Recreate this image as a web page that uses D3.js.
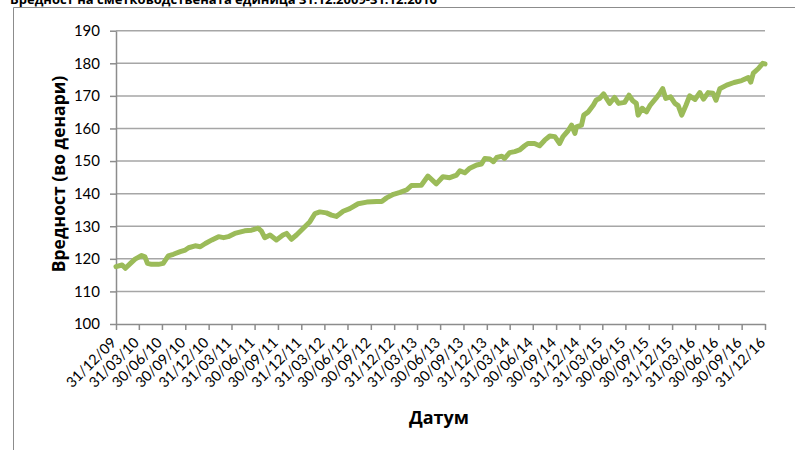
<!DOCTYPE html>
<html>
<head>
<meta charset="utf-8">
<script src="https://cdn.jsdelivr.net/npm/d3@7"></script>
<style>
  body { margin: 0; background: #fff; }
  svg { display: block; }
</style>
</head>
<body>
<div id="chart"></div>
<script>
// Вредност на сметководствената единица – line chart, 31.12.2009-31.12.2016
const chartTitle = "Вредност на сметководствената единица  31.12.2009-31.12.2016";
const yTitle = "Вредност (во денари)";
const xTitle = "Датум";

const dates = [
    "2009-12-31", "2010-01-24", "2010-02-06", "2010-02-26", "2010-03-16", "2010-04-11", "2010-04-24", "2010-05-04",
    "2010-05-20", "2010-06-16", "2010-07-05", "2010-07-25", "2010-08-14", "2010-09-10", "2010-09-30", "2010-10-13",
    "2010-11-08", "2010-11-28", "2010-12-18", "2011-01-13", "2011-02-08", "2011-02-28", "2011-03-18", "2011-04-13",
    "2011-05-22", "2011-06-18", "2011-07-14", "2011-07-27", "2011-08-09", "2011-08-30", "2011-09-24", "2011-10-20",
    "2011-11-03", "2011-11-22", "2011-12-12", "2012-01-08", "2012-02-03", "2012-02-23", "2012-03-13", "2012-04-08",
    "2012-04-28", "2012-05-17", "2012-06-13", "2012-07-09", "2012-08-11", "2012-09-14", "2012-10-23", "2012-11-12",
    "2012-12-01", "2012-12-28", "2013-01-23", "2013-02-19", "2013-03-09", "2013-04-17", "2013-05-13", "2013-06-15",
    "2013-07-11", "2013-08-07", "2013-09-03", "2013-09-16", "2013-10-05", "2013-10-25", "2013-11-21", "2013-12-10",
    "2013-12-23", "2014-01-12", "2014-01-26", "2014-02-08", "2014-02-28", "2014-03-11", "2014-03-31", "2014-04-20",
    "2014-05-09", "2014-05-29", "2014-06-11", "2014-07-07", "2014-07-27", "2014-08-16", "2014-09-05", "2014-09-25",
    "2014-10-14", "2014-10-27", "2014-11-16", "2014-11-30", "2014-12-13", "2014-12-19", "2015-01-08", "2015-01-17",
    "2015-02-04", "2015-02-24", "2015-03-07", "2015-03-20", "2015-04-05", "2015-04-29", "2015-05-18", "2015-06-03",
    "2015-06-27", "2015-07-14", "2015-07-29", "2015-08-12", "2015-08-19", "2015-09-04", "2015-09-21", "2015-10-06",
    "2015-10-28", "2015-11-14", "2015-11-24", "2015-12-06", "2015-12-25", "2016-01-11", "2016-01-24", "2016-02-07",
    "2016-02-24", "2016-03-09", "2016-03-30", "2016-04-18", "2016-05-03", "2016-05-21", "2016-06-09", "2016-06-21",
    "2016-07-06", "2016-08-02", "2016-08-31", "2016-09-30", "2016-10-26", "2016-11-05", "2016-11-15", "2016-12-05",
    "2016-12-22", "2016-12-31"
];

const values = [
    117.6, 118.1, 117.1, 118.6, 119.9, 121.0, 120.6, 118.6,
    118.3, 118.3, 118.6, 120.9, 121.4, 122.2, 122.7, 123.4,
    124.0, 123.7, 124.7, 125.8, 126.8, 126.5, 126.8, 127.8,
    128.6, 128.8, 129.4, 128.5, 126.5, 127.3, 125.8, 127.3,
    127.8, 126.0, 127.3, 129.4, 131.4, 133.9, 134.4, 134.1,
    133.4, 133.0, 134.6, 135.4, 136.9, 137.4, 137.6, 137.6,
    138.7, 139.8, 140.4, 141.2, 142.5, 142.6, 145.4, 143.0,
    145.2, 144.9, 145.7, 147.0, 146.4, 147.8, 148.8, 149.1,
    150.8, 150.6, 149.8, 151.1, 151.5, 150.8, 152.6, 152.9,
    153.4, 154.7, 155.4, 155.4, 154.7, 156.4, 157.7, 157.5,
    155.4, 157.5, 159.3, 161.0, 158.5, 160.5, 161.0, 164.1,
    165.1, 167.2, 168.7, 169.2, 170.6, 167.7, 169.5, 167.7,
    168.0, 170.2, 168.5, 167.7, 164.1, 166.2, 165.1, 167.2,
    169.2, 171.0, 172.2, 169.2, 169.7, 167.7, 167.0, 164.1,
    167.2, 170.0, 168.9, 171.0, 169.0, 171.0, 170.8, 168.7,
    172.2, 173.3, 174.1, 174.7, 175.6, 174.2, 177.0, 178.4,
    180.0, 179.8
];

const yTicks = [100, 110, 120, 130, 140, 150, 160, 170, 180, 190];

const xTickLabels = [
    "31/12/09", "31/03/10", "30/06/10", "30/09/10", "31/12/10", "31/03/11", "30/06/11", "30/09/11",
    "31/12/11", "31/03/12", "30/06/12", "30/09/12", "31/12/12", "31/03/13", "30/06/13", "30/09/13",
    "31/12/13", "31/03/14", "30/06/14", "30/09/14", "31/12/14", "31/03/15", "30/06/15", "30/09/15",
    "31/12/15", "31/03/16", "30/06/16", "30/09/16", "31/12/16"
];

const parseDate = d3.timeParse("%Y-%m-%d");
const parseTick = d3.timeParse("%d/%m/%y");
const data = dates.map((d, i) => ({ date: parseDate(d), value: values[i] }));
const tickDates = xTickLabels.map(parseTick);

const W = 795, H = 450;
const margin = { top: 30.7, right: 30, bottom: 126, left: 116 };
const width = W - margin.left - margin.right;
const height = H - margin.top - margin.bottom;

const svg = d3.select("#chart")
    .append("svg")
    .attr("width", W)
    .attr("height", H);

// outer frame (only top and left edge are visible)
svg.append("path")
    .attr("d", `M13.5,${H}V7.5H${W}`)
    .attr("fill", "none")
    .attr("stroke", "#8c8c8c")
    .attr("stroke-width", 1);

// title, cut off by the top of the picture as in the source
svg.append("text")
    .attr("x", 10)
    .attr("y", 4)
    .attr("font-family", "'Open Sans', sans-serif")
    .attr("font-weight", "bold")
    .attr("font-size", 13)
    .attr("fill", "#000")
    .text(chartTitle);

const x = d3.scaleTime()
    .domain(d3.extent(tickDates))
    .range([0, width]);

const y = d3.scaleLinear()
    .domain([100, 190])
    .range([height, 0]);

const g = svg.append("g")
    .attr("transform", `translate(${margin.left},${margin.top})`);

// horizontal gridlines
g.selectAll(".grid")
    .data(yTicks.filter(t => t > 100))
    .enter()
    .append("line")
    .attr("class", "grid")
    .attr("x1", 0)
    .attr("x2", width)
    .attr("y1", d => y(d))
    .attr("y2", d => y(d))
    .attr("stroke", "#a6a6a6")
    .attr("stroke-width", 1.5);

// y axis
const yAxis = g.append("g")
    .call(d3.axisLeft(y).tickValues(yTicks).tickSize(6).tickSizeOuter(0).tickPadding(10));
yAxis.select(".domain").attr("stroke", "#8c8c8c").attr("stroke-width", 1.5);
yAxis.selectAll("line").attr("stroke", "#8c8c8c").attr("stroke-width", 1.5);
yAxis.selectAll("text")
    .attr("font-family", "Lato, 'Open Sans', sans-serif")
    .attr("font-size", 15)
    .attr("fill", "#000");

// x axis
const xAxis = g.append("g")
    .attr("transform", `translate(0,${height})`)
    .call(d3.axisBottom(x).tickValues(tickDates).tickSize(6).tickSizeOuter(0)
        .tickFormat((d, i) => xTickLabels[i]));
xAxis.select(".domain").attr("stroke", "#8c8c8c").attr("stroke-width", 1.5);
xAxis.selectAll("line").attr("stroke", "#8c8c8c").attr("stroke-width", 1.5);
xAxis.selectAll("text")
    .attr("x", null)
    .attr("y", null)
    .attr("dy", "0.35em")
    .attr("transform", "translate(-3,16) rotate(-45)")
    .style("text-anchor", "end")
    .attr("font-family", "Lato, 'Open Sans', sans-serif")
    .attr("font-size", 14.5)
    .attr("fill", "#000");

// the series line
const line = d3.line()
    .x(d => x(d.date))
    .y(d => y(d.value));

g.append("path")
    .datum(data)
    .attr("fill", "none")
    .attr("stroke", "#9bbb59")
    .attr("stroke-width", 5)
    .attr("stroke-linejoin", "round")
    .attr("stroke-linecap", "round")
    .attr("d", line);

// axis titles
svg.append("text")
    .attr("transform", "translate(65,174) rotate(-90)")
    .attr("text-anchor", "middle")
    .attr("font-family", "'Open Sans', sans-serif")
    .attr("font-weight", "bold")
    .attr("font-size", 17.5)
    .attr("fill", "#000")
    .text(yTitle);

svg.append("text")
    .attr("x", 439)
    .attr("y", 424)
    .attr("text-anchor", "middle")
    .attr("font-family", "'Open Sans', sans-serif")
    .attr("font-weight", "bold")
    .attr("font-size", 18)
    .attr("fill", "#000")
    .text(xTitle);
</script>
</body>
</html>
